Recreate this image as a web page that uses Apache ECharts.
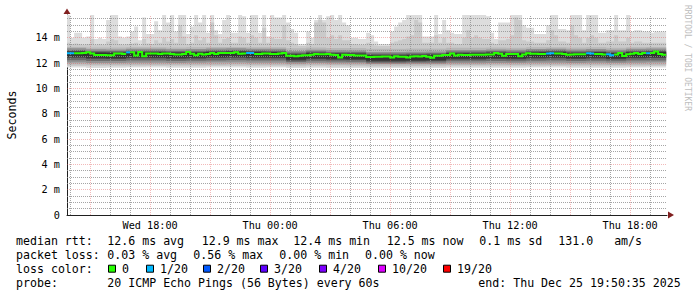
<!DOCTYPE html>
<html>
<head>
<meta charset="utf-8">
<title>SmokePing latency</title>
<script src="https://cdn.jsdelivr.net/npm/echarts@6.0.0/dist/echarts.min.js"></script>
<style>
html,body{margin:0;padding:0;background:#ffffff;}
#chart{width:697px;height:297px;}
</style>
</head>
<body>
<div id="chart"></div>
<script>
// ---- time axis, minutes since Wed 00:00 ----
const viewStart = 830.583;   // Wed 13:50:35
const viewEnd = 2630.583;    // Thu 19:50:35
const firstStepStart = 828;  // first 12-minute RRD step starts Wed 13:48
const stepMinutes = 12;
const stepsPerHour = 5;

const xTickValues = [1080, 1440, 1800, 2160, 2520];
const xTickLabels = ['Wed 18:00', 'Thu 00:00', 'Thu 06:00', 'Thu 12:00', 'Thu 18:00'];
const yTickValues = [0, 2, 4, 6, 8, 10, 12, 14];
const yTickLabels = ['0', '2 m', '4 m', '6 m', '8 m', '10 m', '12 m', '14 m'];
const yMax = 15.8;

// ---- per 12-minute step values (ms) ----
const maxRtt = [
 15.8,14.0,14.4,14.4,14.0,14.1,15.8,13.9,14.0,13.9,
 15.4,15.8,15.8,14.1,14.0,14.1,14.5,14.9,13.8,15.6,
 14.3,14.3,15.3,14.6,15.8,15.2,15.8,14.5,15.8,15.8,
 14.3,14.9,15.8,15.2,15.8,14.4,15.8,14.6,14.3,15.4,
 15.8,14.4,14.4,15.8,15.7,14.4,15.8,15.8,14.4,15.8,
 14.1,15.8,15.6,15.6,15.8,15.2,14.7,14.4,13.5,13.5,
 14.5,14.0,15.4,15.8,15.4,15.7,15.8,15.4,15.8,15.2,
 15.0,14.0,14.0,13.9,13.9,14.4,14.2,13.7,13.5,13.5,
 13.5,14.5,14.9,15.2,15.4,15.8,15.8,15.8,15.8,14.1,
 14.1,14.1,15.8,14.3,15.4,14.6,14.4,14.3,14.3,15.8,
 15.8,15.8,15.8,15.8,15.8,15.7,14.4,13.9,15.2,15.2,
 15.2,15.8,15.8,15.8,15.0,14.8,14.8,14.3,14.3,14.3,
 15.0,15.8,15.8,14.7,14.7,14.6,15.8,15.8,15.8,14.6,
 15.8,15.8,15.8,14.4,14.4,14.6,14.6,15.8,14.6,14.6,
 15.8,14.5,14.6,14.6,14.5,14.5,14.4,14.5,14.5,14.5
];
const ping19 = [
 13.6,13.5,13.55,13.5,13.45,13.5,13.9,13.45,13.5,13.45,
 13.7,13.9,13.8,13.5,13.45,13.5,13.55,13.6,13.4,13.9,
 13.55,13.5,13.8,13.6,14.0,13.7,13.9,13.6,15.0,14.1,
 13.5,13.6,14.2,13.8,14.0,13.6,15.2,14.2,13.6,13.9,
 14.0,13.6,13.6,14.1,14.0,13.6,14.2,14.0,13.6,14.8,
 13.6,14.0,13.9,13.9,15.0,13.8,13.6,13.5,13.35,13.35,
 13.6,13.5,15.2,15.4,15.2,14.0,14.2,13.9,14.2,13.8,
 13.8,13.5,13.5,13.45,13.45,13.6,13.5,13.4,13.35,13.35,
 13.35,13.6,13.7,13.8,13.9,14.1,14.2,15.4,15.2,13.6,
 13.6,13.6,14.2,13.6,14.0,13.6,13.6,13.5,13.5,14.0,
 14.6,14.0,14.2,14.0,13.9,13.9,13.6,13.5,13.8,13.8,
 13.9,14.2,15.6,15.4,13.8,13.7,13.7,13.6,13.6,13.6,
 13.8,14.6,14.2,13.7,13.7,13.6,15.0,14.2,14.0,13.6,
 14.0,14.2,14.0,13.6,13.6,13.7,13.7,14.2,13.7,13.7,
 14.0,13.6,13.7,13.7,13.6,13.6,13.6,13.6,13.6,13.6
];
const medianRtt = [
 12.78,12.78,12.78,12.78,12.80,12.86,12.76,12.64,12.64,12.64,
 12.62,12.62,12.76,12.76,12.72,12.85,12.86,12.60,12.87,12.55,
 12.76,12.76,12.76,12.72,12.76,12.76,12.72,12.68,12.68,12.72,
 12.87,12.74,12.62,12.74,12.68,12.72,12.80,12.72,12.80,12.80,
 12.80,12.80,12.86,12.74,12.76,12.80,12.80,12.72,12.72,12.76,
 12.76,12.72,12.72,12.75,12.80,12.58,12.58,12.55,12.58,12.62,
 12.62,12.66,12.72,12.70,12.70,12.72,12.66,12.64,12.45,12.66,
 12.64,12.64,12.60,12.60,12.60,12.48,12.48,12.50,12.50,12.52,
 12.52,12.45,12.55,12.50,12.50,12.45,12.52,12.55,12.52,12.57,
 12.50,12.42,12.58,12.58,12.64,12.64,12.75,12.60,12.66,12.64,
 12.64,12.66,12.66,12.66,12.66,12.68,12.68,12.80,12.74,12.58,
 12.72,12.72,12.72,12.55,12.68,12.78,12.74,12.74,12.72,12.72,
 12.76,12.78,12.76,12.76,12.72,12.66,12.68,12.70,12.70,12.70,
 12.78,12.76,12.72,12.72,12.68,12.70,12.62,12.68,12.80,12.57,
 12.70,12.74,12.80,12.72,12.80,12.78,12.80,12.92,12.72,12.65
];
const lossCount = [
 1,1,0,0,0,0,0,0,0,0,
 0,0,0,0,0,1,0,0,0,0,
 0,0,0,0,0,0,0,0,0,0,
 0,0,0,0,0,0,0,0,0,0,
 0,0,0,0,0,1,1,0,0,0,
 0,0,0,0,0,0,0,0,0,0,
 0,0,0,0,0,0,0,0,0,0,
 0,0,0,0,0,0,0,0,0,0,
 0,0,0,0,0,0,0,0,0,0,
 0,0,0,0,0,0,0,0,0,0,
 0,0,0,0,0,0,0,0,0,0,
 0,0,0,0,0,0,0,0,0,0,
 1,1,0,0,0,0,0,0,0,0,
 1,1,0,0,0,1,1,0,0,0,
 0,0,0,0,0,1,0,0,0,0
];

// ---- hourly estimates of the inner smoke edges (ms) ----
const minRtt = [11.66,11.62,11.64,11.65,11.66,11.63,11.64,11.66,11.65,11.64,11.65,11.62,11.63,11.62,11.61,11.60,11.61,11.60,11.62,11.63,11.63,11.64,11.63,11.65,11.66,11.63,11.64,11.63,11.65,11.66];
const ping2  = [11.77,11.75,11.76,11.76,11.77,11.75,11.76,11.77,11.77,11.76,11.76,11.73,11.75,11.74,11.74,11.72,11.72,11.73,11.73,11.75,11.75,11.76,11.75,11.76,11.77,11.75,11.76,11.75,11.76,11.77];
const ping3  = [11.88,11.86,11.86,11.87,11.87,11.86,11.87,11.87,11.88,11.87,11.87,11.84,11.86,11.85,11.84,11.82,11.82,11.82,11.83,11.85,11.85,11.86,11.85,11.87,11.87,11.86,11.87,11.85,11.87,11.87];
const ping5  = [12.05,12.01,12.01,12.03,12.03,12.01,12.02,12.04,12.05,12.03,12.03,11.96,12.00,11.98,11.98,11.93,11.93,11.94,11.95,11.99,11.99,12.01,12.00,12.03,12.03,12.01,12.02,12.00,12.03,12.04];
const ping7  = [12.23,12.17,12.17,12.20,12.20,12.17,12.19,12.21,12.23,12.21,12.20,12.08,12.15,12.12,12.11,12.03,12.03,12.04,12.05,12.14,12.14,12.17,12.14,12.19,12.21,12.16,12.19,12.14,12.20,12.21];
const ping9  = [12.42,12.34,12.33,12.38,12.38,12.34,12.36,12.40,12.42,12.39,12.38,12.21,12.31,12.26,12.25,12.13,12.13,12.15,12.17,12.29,12.29,12.33,12.30,12.37,12.39,12.32,12.36,12.30,12.38,12.40];
const ping10 = [12.50,12.42,12.41,12.46,12.46,12.42,12.44,12.48,12.50,12.47,12.46,12.29,12.39,12.34,12.33,12.21,12.21,12.23,12.25,12.37,12.37,12.41,12.38,12.45,12.47,12.40,12.44,12.38,12.46,12.48];
const ping11 = [12.89,12.81,12.80,12.85,12.85,12.81,12.83,12.87,12.89,12.86,12.85,12.68,12.78,12.73,12.72,12.60,12.60,12.62,12.64,12.76,12.76,12.80,12.77,12.84,12.86,12.79,12.83,12.77,12.85,12.87];
const ping12 = [12.94,12.86,12.85,12.90,12.90,12.86,12.88,12.92,12.94,12.91,12.90,12.73,12.83,12.78,12.77,12.65,12.65,12.67,12.69,12.81,12.81,12.85,12.82,12.89,12.91,12.84,12.88,12.82,12.90,12.92];
const ping14 = [13.04,12.96,12.95,13.00,13.00,12.96,12.98,13.02,13.04,13.01,13.00,12.83,12.93,12.88,12.87,12.75,12.75,12.77,12.79,12.91,12.91,12.95,12.92,12.99,13.01,12.94,12.98,12.92,13.00,13.02];
const ping16 = [13.17,13.09,13.08,13.13,13.13,13.09,13.11,13.15,13.17,13.14,13.13,12.96,13.06,13.01,13.00,12.88,12.88,12.90,12.92,13.04,13.04,13.08,13.05,13.12,13.14,13.07,13.11,13.05,13.13,13.15];
const ping18 = [13.28,13.24,13.24,13.26,13.26,13.24,13.25,13.27,13.28,13.26,13.26,13.18,13.23,13.20,13.20,13.14,13.14,13.15,13.16,13.22,13.22,13.24,13.22,13.26,13.26,13.23,13.25,13.22,13.26,13.27];

// ---- legend texts ----
const rttLabel = 'median rtt:';
const rttItems = ['12.6 ms avg', '12.9 ms max', '12.4 ms min', '12.5 ms now', '0.1 ms sd', '131.0   am/s'];
const lossLabel = 'packet loss:';
const lossItems = ['0.03 % avg', '0.56 % max', '0.00 % min', '0.00 % now'];
const lossColorLabel = 'loss color:';
const lossLevels = [0, 1, 2, 3, 4, 10, 19];
const lossLevelLabels = ['0', '1/20', '2/20', '3/20', '4/20', '10/20', '19/20'];
const lossLevelColors = ['#26ff00', '#00b8ff', '#0059ff', '#5e00ff', '#7e00ff', '#dd00ff', '#ff0000'];
const probeLabel = 'probe:';
const probeText = '20 ICMP Echo Pings (56 Bytes) every 60s';
const endText = 'end: Thu Dec 25 19:50:35 2025';
const yAxisTitle = 'Seconds';
const watermark = 'RRDTOOL / TOBI OETIKER';

// ---------------------------------------------------------------
const MONO = '"DejaVu Sans Mono", "Liberation Mono", monospace';
const N = maxRtt.length;
const hourIdx = i => Math.floor(i / stepsPerHour);
function stepSpan(i) {
  const s = firstStepStart + stepMinutes * i;
  return [Math.max(s, viewStart), Math.min(s + stepMinutes, viewEnd)];
}

const bands = [
  { color: '#dddddd', lo: i => minRtt[hourIdx(i)], hi: i => maxRtt[i] },
  { color: '#cacaca', lo: i => ping2[hourIdx(i)],  hi: i => ping19[i] },
  { color: '#b7b7b7', lo: i => ping3[hourIdx(i)],  hi: i => ping18[hourIdx(i)] },
  { color: '#919191', lo: i => ping5[hourIdx(i)],  hi: i => ping16[hourIdx(i)] },
  { color: '#6b6b6b', lo: i => ping7[hourIdx(i)],  hi: i => ping14[hourIdx(i)] },
  { color: '#454545', lo: i => ping9[hourIdx(i)],  hi: i => ping12[hourIdx(i)] },
  { color: '#323232', lo: i => ping10[hourIdx(i)], hi: i => ping11[hourIdx(i)] }
];

function bandRender(params, api) {
  const b = bands[params.dataIndex];
  const top = [], bottom = [];
  for (let i = 0; i < N; i++) {
    const [x0, x1] = stepSpan(i);
    if (x1 <= x0) continue;
    top.push(api.coord([x0, b.hi(i)]), api.coord([x1, b.hi(i)]));
    bottom.push(api.coord([x0, b.lo(i)]), api.coord([x1, b.lo(i)]));
  }
  return { type: 'polygon', shape: { points: top.concat(bottom.reverse()) }, style: { fill: b.color } };
}

// runs of equal loss for the coloured median line
const runs = [];
for (let i = 0; i < N; i++) {
  const last = runs[runs.length - 1];
  if (last && last.loss === lossCount[i] && last.end === i - 1) last.end = i;
  else runs.push({ start: i, end: i, loss: lossCount[i] });
}
function medianRender(params, api) {
  const r = runs[params.dataIndex];
  const pts = [];
  for (let i = r.start; i <= r.end; i++) {
    const [x0, x1] = stepSpan(i);
    if (x1 <= x0) continue;
    pts.push(api.coord([x0, medianRtt[i]]), api.coord([x1, medianRtt[i]]));
  }
  const color = lossLevelColors[lossLevels.indexOf(r.loss)];
  return { type: 'polyline', shape: { points: pts }, style: { stroke: color, lineWidth: 2, fill: 'none' } };
}

// grid lines: hourly minor, 3-hourly major; 0.5 ms minor, 2 ms major
const gridItems = [];
for (let t = 840; t <= viewEnd; t += 60) gridItems.push([t, 0, ((t - 900) % 180 === 0) ? 1 : 0]);
for (let v = 0.5; v < yMax; v += 0.5) gridItems.push([v, 1, (v % 2 === 0) ? 1 : 0]);
function gridRender(params, api) {
  const v = api.value(0), dir = api.value(1), major = api.value(2);
  let shape;
  if (dir === 0) {
    const a = api.coord([v, 0]), b = api.coord([v, yMax]);
    const x = Math.round(a[0] - 0.5) + 0.5;
    shape = { x1: x, y1: a[1], x2: x, y2: b[1] };
  } else {
    const a = api.coord([viewStart, v]), b = api.coord([viewEnd, v]);
    const y = Math.round(a[1] - 0.5) + 0.5;
    shape = { x1: a[0], y1: y, x2: b[0], y2: y };
  }
  return { type: 'line', shape, style: {
    stroke: major ? 'rgba(222,79,79,0.4)' : 'rgba(143,143,143,0.8)', lineWidth: 1, lineDash: [1, 1] } };
}

// ---- legend graphics ----
const rowY = [241, 255, 268.7, 282.7];
const rttX = [107.3, 201.7, 293.3, 386.7, 479.3, 558.3];
const lossX = [107.3, 193.3, 279.3, 365];
const squareX = [108, 146, 203, 260, 319, 378, 443];
const txt = (x, y, s, extra) => Object.assign({ type: 'text', x, y, silent: true,
  style: { text: s, fill: '#000', font: '11.6px ' + MONO, verticalAlign: 'middle', align: 'left' } }, extra || {});
const graphics = [];
graphics.push(txt(16, rowY[0], rttLabel));
rttItems.forEach((s, k) => graphics.push(txt(rttX[k], rowY[0], s)));
graphics.push(txt(16, rowY[1], lossLabel));
lossItems.forEach((s, k) => graphics.push(txt(lossX[k], rowY[1], s)));
graphics.push(txt(16, rowY[2], lossColorLabel));
lossLevelLabels.forEach((s, k) => {
  graphics.push({ type: 'rect', silent: true, shape: { x: squareX[k] + 0.5, y: rowY[2] - 3.5, width: 7, height: 7 },
    style: { fill: lossLevelColors[k], stroke: '#000', lineWidth: 1 } });
  graphics.push(txt(squareX[k] + 14, rowY[2], s));
});
graphics.push(txt(16, rowY[3], probeLabel));
graphics.push(txt(107.3, rowY[3], probeText));
graphics.push(txt(478.3, rowY[3], endText));
// watermark, axis arrows
graphics.push({ type: 'text', x: 687.5, y: 5, rotation: -Math.PI / 2, silent: true,
  style: { text: watermark, fill: '#bdbdbd', font: '8px ' + MONO, verticalAlign: 'middle', align: 'left' } });
graphics.push({ type: 'polygon', silent: true, shape: { points: [[63.5, 14], [70.5, 14], [67, 8.5]] }, style: { fill: '#801f1f' } });
graphics.push({ type: 'polygon', silent: true, shape: { points: [[668, 211.5], [668, 218.5], [674, 215]] }, style: { fill: '#801f1f' } });

const chart = echarts.init(document.getElementById('chart'), null, { renderer: 'svg', width: 697, height: 297 });
chart.setOption({
  animation: false,
  backgroundColor: '#ffffff',
  grid: { left: 67, top: 15, width: 600, height: 200, containLabel: false, outerBoundsMode: 'none' },
  xAxis: {
    type: 'value', min: viewStart, max: viewEnd,
    axisLine: { show: true, onZero: false, lineStyle: { color: '#1f1f1f', width: 1 } },
    axisTick: { show: false },
    splitLine: { show: false },
    axisLabel: {
      customValues: xTickValues,
      formatter: v => { const k = xTickValues.indexOf(Math.round(v)); return k >= 0 ? xTickLabels[k] : ''; },
      margin: 5, fontFamily: MONO, fontSize: 10.2, color: '#000'
    }
  },
  yAxis: {
    type: 'value', min: 0, max: yMax,
    axisLine: { show: true, lineStyle: { color: '#1f1f1f', width: 1 } },
    axisTick: { show: false },
    splitLine: { show: false },
    axisLabel: {
      customValues: yTickValues,
      formatter: v => { const k = yTickValues.indexOf(v); return k >= 0 ? yTickLabels[k] : ''; },
      margin: 7, fontFamily: MONO, fontSize: 10.2, color: '#000'
    },
    name: yAxisTitle, nameLocation: 'middle', nameGap: 49, nameRotate: 90,
    nameTextStyle: { fontFamily: MONO, fontSize: 11.6, color: '#000' }
  },
  series: [
    { type: 'custom', name: 'smoke', coordinateSystem: 'cartesian2d', silent: true, z: 2,
      renderItem: bandRender, data: bands.map((b, k) => [viewStart, 0, k]) },
    { type: 'custom', name: 'grid', coordinateSystem: 'cartesian2d', silent: true, z: 3,
      renderItem: gridRender, data: gridItems },
    { type: 'custom', name: 'median rtt', coordinateSystem: 'cartesian2d', silent: true, z: 4,
      renderItem: medianRender, data: runs.map((r, k) => [viewStart, 0, k]) }
  ],
  graphic: graphics
});
</script>
</body>
</html>
